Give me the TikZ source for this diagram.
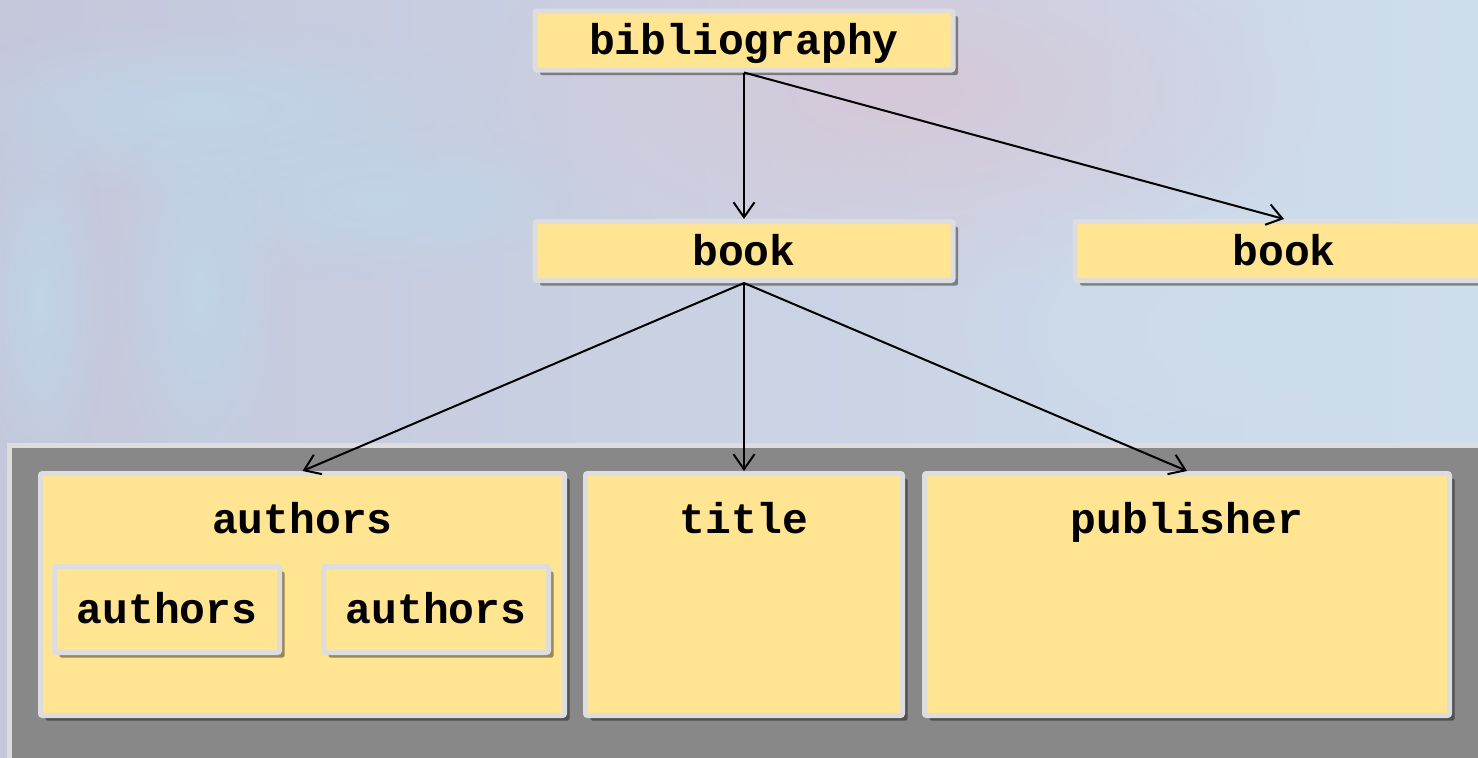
\documentclass[tikz,border=0pt]{standalone}
\usepackage{fontspec}
\setmonofont{Liberation Mono}
\usetikzlibrary{arrows.meta, shadows, fadings}
\definecolor{bgLavender}{RGB}{197, 199, 219}
\definecolor{bgBlue}{RGB}{206, 221, 236}
\definecolor{bgStreak}{RGB}{192, 212, 232}
\definecolor{bgPink}{RGB}{214, 200, 216}
\definecolor{boxYellow}{RGB}{255, 228, 145}
\definecolor{boxEdge}{RGB}{221, 221, 221}
\definecolor{panelGray}{RGB}{136, 136, 136}
\tikzfading[name=softblob, inner color=transparent!0, outer color=transparent!100]

\begin{document}
\begin{tikzpicture}[x=0.5pt, y=-0.5pt,
    boxstyle/.style={fill=boxYellow, draw=boxEdge, line width=2.5pt, rounded corners=1pt,
      inner sep=0pt, text height=15pt, text depth=1pt,
      font=\ttfamily\bfseries\fontsize{21.5}{24}\selectfont,
      drop shadow={shadow xshift=2.5pt, shadow yshift=-2.5pt, opacity=.4, fill=black}},
    treebox/.style={boxstyle, minimum width=209pt, minimum height=29.5pt},
    fieldbox/.style={boxstyle, minimum height=121pt},
    fieldlabel/.style={anchor=base, inner sep=0pt, font=\ttfamily\bfseries\fontsize{21.5}{24}\selectfont},
    link/.style={line width=1pt, -{Straight Barb[length=7.5pt, width=10.5pt, line width=1pt]}}]
  \useasboundingbox (0,0) rectangle (1478,757);
  \clip (0,0) rectangle (1478,757);

  % blurred backdrop
  \shade[left color=bgLavender, right color=bgBlue] (0,0) rectangle (1478,757);
  \fill[bgPink, path fading=softblob] (900,90) ellipse (420 and 200);
  \fill[bgStreak, path fading=softblob] (200,110) ellipse (300 and 90);
  \fill[bgStreak, path fading=softblob] (380,200) ellipse (220 and 80);
  \fill[bgStreak, path fading=softblob] (200,290) ellipse (90 and 220);
  \fill[bgStreak, path fading=softblob] (40,300) ellipse (70 and 200);
  \fill[bgBlue, path fading=softblob] (1300,330) ellipse (380 and 180);

  % tree
  \node[treebox] (bib) at (744,40.5) {bibliography};
  \node[treebox] (bookA) at (744,251) {book};
  \node[treebox] (bookB) at (1284,251) {book};

  \draw[panelGray, fill=panelGray] (9.5,445.5) rectangle (1500,780);
  \draw[boxEdge, line width=2.5pt] (1500,445.5) -- (9.5,445.5) -- (9.5,780);

  \node[fieldbox, minimum width=262pt] (authors) at (302.5,594.5) {};
  \node[fieldbox, minimum width=158.5pt] (title) at (744,594.5) {};
  \node[fieldbox, minimum width=262.5pt] (publisher) at (1187,594.5) {};
  \node[fieldlabel] (authorsText) at (302.5,533) {authors};
  \node[fieldlabel] (titleText) at (744,533) {title};
  \node[fieldlabel] (publisherText) at (1187,533) {publisher};

  \node[boxstyle, minimum width=112.5pt, minimum height=43pt] (authorA) at (167,609.5) {authors};
  \node[boxstyle, minimum width=112.5pt, minimum height=43pt] (authorB) at (436,609.5) {authors};

  \draw[link] (bib.south) -- (bookA.north);
  \draw[link] (bib.south) -- (bookB.north);
  \draw[link] (bookA.south) -- (authors.north);
  \draw[link] (bookA.south) -- (title.north);
  \draw[link] (bookA.south) -- (publisher.north);
\end{tikzpicture}
\end{document}
